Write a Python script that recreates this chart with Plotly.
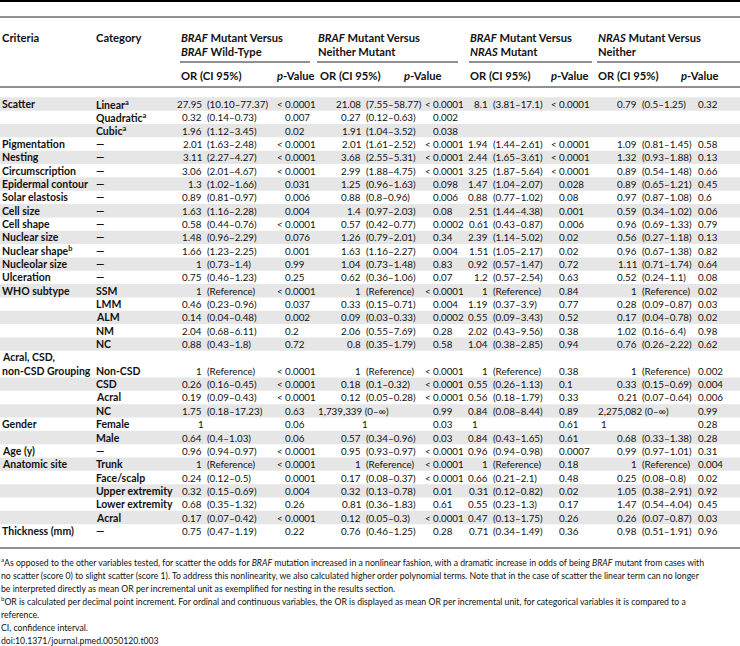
import plotly.graph_objects as go

# ---------------- data ----------------
criteria = ["Scatter", "", "", "Pigmentation", "Nesting", "Circumscription", "Epidermal contour",
            "Solar elastosis", "Cell size", "Cell shape", "Nuclear size", "Nuclear shape<sup>b</sup>",
            "Nucleolar size", "Ulceration", "WHO subtype", "", "", "", "",
            "Acral, CSD,|non-CSD Grouping", "", "", "", "Gender", "", "Age (y)", "Anatomic site",
            "", "", "", "", "Thickness (mm)"]
category = ["Linear<sup>a</sup>", "Quadratic<sup>a</sup>", "Cubic<sup>a</sup>", "—", "—", "—", "—",
            "—", "—", "—", "—", "—", "—", "—", "SSM", "LMM", "ALM", "NM", "NC",
            "Non-CSD", "CSD", "Acral", "NC", "Female", "Male", "—", "Trunk",
            "Face/scalp", "Upper extremity", "Lower extremity", "Acral", "—"]

or_braf_vs_wt = ["27.95 (10.10–77.37)", "0.32 (0.14–0.73)", "1.96 (1.12–3.45)", "2.01 (1.63–2.48)",
                 "3.11 (2.27–4.27)", "3.06 (2.01–4.67)", "1.3 (1.02–1.66)", "0.89 (0.81–0.97)",
                 "1.63 (1.16–2.28)", "0.58 (0.44–0.76)", "1.48 (0.96–2.29)", "1.66 (1.23–2.25)",
                 "1 (0.73–1.4)", "0.75 (0.46–1.23)", "1 (Reference)", "0.46 (0.23–0.96)",
                 "0.14 (0.04–0.48)", "2.04 (0.68–6.11)", "0.88 (0.43–1.8)", "1 (Reference)",
                 "0.26 (0.16–0.45)", "0.19 (0.09–0.43)", "1.75 (0.18–17.23)", "1",
                 "0.64 (0.4–1.03)", "0.96 (0.94–0.97)", "1 (Reference)", "0.24 (0.12–0.5)",
                 "0.32 (0.15–0.69)", "0.68 (0.35–1.32)", "0.17 (0.07–0.42)", "0.75 (0.47–1.19)"]
p_braf_vs_wt = ["<0.0001", "0.007", "0.02", "<0.0001", "<0.0001", "<0.0001", "0.031", "0.006",
                "0.004", "<0.0001", "0.076", "0.001", "0.99", "0.25", "<0.0001", "0.037",
                "0.002", "0.2", "0.72", "<0.0001", "<0.0001", "<0.0001", "0.63", "0.06",
                "0.06", "<0.0001", "<0.0001", "0.0001", "0.004", "0.26", "<0.0001", "0.22"]

or_braf_vs_neither = ["21.08 (7.55–58.77)", "0.27 (0.12–0.63)", "1.91 (1.04–3.52)", "2.01 (1.61–2.52)",
                      "3.68 (2.55–5.31)", "2.99 (1.88–4.75)", "1.25 (0.96–1.63)", "0.88 (0.8–0.96)",
                      "1.4 (0.97–2.03)", "0.57 (0.42–0.77)", "1.26 (0.79–2.01)", "1.63 (1.16–2.27)",
                      "1.04 (0.73–1.48)", "0.62 (0.36–1.06)", "1 (Reference)", "0.33 (0.15–0.71)",
                      "0.09 (0.03–0.33)", "2.06 (0.55–7.69)", "0.8 (0.35–1.79)", "1 (Reference)",
                      "0.18 (0.1–0.32)", "0.12 (0.05–0.28)", "1,739,339 (0–∞)", "1",
                      "0.57 (0.34–0.96)", "0.95 (0.93–0.97)", "1 (Reference)", "0.17 (0.08–0.37)",
                      "0.32 (0.13–0.78)", "0.81 (0.36–1.83)", "0.12 (0.05–0.3)", "0.76 (0.46–1.25)"]
p_braf_vs_neither = ["<0.0001", "0.002", "0.038", "<0.0001", "<0.0001", "<0.0001", "0.098", "0.006",
                     "0.08", "0.0002", "0.34", "0.004", "0.83", "0.07", "<0.0001", "0.004",
                     "0.0002", "0.28", "0.58", "<0.0001", "<0.0001", "<0.0001", "0.99", "0.03",
                     "0.03", "<0.0001", "<0.0001", "<0.0001", "0.01", "0.61", "<0.0001", "0.28"]

or_braf_vs_nras = ["8.1 (3.81–17.1)", "", "", "1.94 (1.44–2.61)", "2.44 (1.65–3.61)", "3.25 (1.87–5.64)",
                   "1.47 (1.04–2.07)", "0.88 (0.77–1.02)", "2.51 (1.44–4.38)", "0.61 (0.43–0.87)",
                   "2.39 (1.14–5.02)", "1.51 (1.05–2.17)", "0.92 (0.57–1.47)", "1.2 (0.57–2.54)",
                   "1 (Reference)", "1.19 (0.37–3.9)", "0.55 (0.09–3.43)", "2.02 (0.43–9.56)",
                   "1.04 (0.38–2.85)", "1 (Reference)", "0.55 (0.26–1.13)", "0.56 (0.18–1.79)",
                   "0.84 (0.08–8.44)", "1", "0.84 (0.43–1.65)", "0.96 (0.94–0.98)", "1 (Reference)",
                   "0.66 (0.21–2.1)", "0.31 (0.12–0.82)", "0.55 (0.23–1.3)", "0.47 (0.13–1.75)",
                   "0.71 (0.34–1.49)"]
p_braf_vs_nras = ["<0.0001", "", "", "<0.0001", "<0.0001", "<0.0001", "0.028", "0.08", "0.001",
                  "0.006", "0.02", "0.02", "0.72", "0.63", "0.84", "0.77", "0.52", "0.38", "0.94",
                  "0.38", "0.1", "0.33", "0.89", "0.61", "0.61", "0.0007", "0.18", "0.48", "0.02",
                  "0.17", "0.26", "0.36"]

or_nras_vs_neither = ["0.79 (0.5–1.25)", "", "", "1.09 (0.81–1.45)", "1.32 (0.93–1.88)",
                      "0.89 (0.54–1.48)", "0.89 (0.65–1.21)", "0.97 (0.87–1.08)", "0.59 (0.34–1.02)",
                      "0.96 (0.69–1.33)", "0.56 (0.27–1.18)", "0.96 (0.67–1.38)", "1.11 (0.71–1.74)",
                      "0.52 (0.24–1.1)", "1 (Reference)", "0.28 (0.09–0.87)", "0.17 (0.04–0.78)",
                      "1.02 (0.16–6.4)", "0.76 (0.26–2.22)", "1 (Reference)", "0.33 (0.15–0.69)",
                      "0.21 (0.07–0.64)", "2,275,082 (0–∞)", "1", "0.68 (0.33–1.38)",
                      "0.99 (0.97–1.01)", "1 (Reference)", "0.25 (0.08–0.8)", "1.05 (0.38–2.91)",
                      "1.47 (0.54–4.04)", "0.26 (0.07–0.87)", "0.98 (0.51–1.91)"]
p_nras_vs_neither = ["0.32", "", "", "0.58", "0.13", "0.66", "0.45", "0.6", "0.06", "0.79", "0.13",
                     "0.82", "0.64", "0.08", "0.02", "0.03", "0.02", "0.98", "0.62", "0.002", "0.004",
                     "0.006", "0.99", "0.28", "0.28", "0.31", "0.004", "0.02", "0.92", "0.45", "0.03",
                     "0.96"]

group_titles = [("<i>BRAF</i> Mutant Versus", "<i>BRAF</i> Wild-Type"),
                ("<i>BRAF</i> Mutant Versus", "Neither Mutant"),
                ("<i>BRAF</i> Mutant Versus", "<i>NRAS</i> Mutant"),
                ("<i>NRAS</i> Mutant Versus", "Neither")]
sub_headers = ["OR (CI 95%)", "<i>p</i>-Value"]
stub_headers = ["Criteria", "Category"]

footnotes = [
    "<sup>a</sup>As opposed to the other variables tested, for scatter the odds for <i>BRAF</i> mutation increased in a nonlinear fashion, with a dramatic increase in odds of being <i>BRAF</i> mutant from cases with",
    "no scatter (score 0) to slight scatter (score 1). To address this nonlinearity, we also calculated higher order polynomial terms. Note that in the case of scatter the linear term can no longer",
    "be interpreted directly as mean OR per incremental unit as exemplified for nesting in the results section.",
    "<sup>b</sup>OR is calculated per decimal point increment. For ordinal and continuous variables, the OR is displayed as mean OR per incremental unit, for categorical variables it is compared to a",
    "reference.",
    "CI, confidence interval.",
    "doi:10.1371/journal.pmed.0050120.t003",
]

or_cols = [or_braf_vs_wt, or_braf_vs_neither, or_braf_vs_nras, or_nras_vs_neither]
p_cols = [p_braf_vs_wt, p_braf_vs_neither, p_braf_vs_nras, p_nras_vs_neither]

# ---------------- layout / style ----------------
W, H = 740, 646
FONT = "Lato"
TXT = "#111111"
STRIPE = "#e6e6e6"
FS_DATA = 9.8
FS_LABEL = 10.5
FS_HEAD = 11.2
FS_NOTE = 8.7

X_CRIT, X_CAT = 0.5, 94.5
COLS = [
    dict(group=179.5, orh=179.5, ph=276, split=203, p=284, wide=179.5, lone=197, ul=(180, 310)),
    dict(group=317, orh=319, ph=403, split=362, p=432, wide=317, lone=360.5, ul=(317, 458)),
    dict(group=469, orh=469, ph=550, split=489, p=558, wide=469, lone=471, ul=(469, 592)),
    dict(group=597, orh=597, ph=679.5, split=638, p=697, wide=597, lone=599.5, ul=(597, 740)),
]
Y_FIRST, PITCH = 104, 13.34
Y_HEAD1, Y_HEAD2, Y_UL, Y_HEAD3 = 37, 51, 62, 75
Y_TOP, Y_RULE1, Y_RULE2, Y_BOTTOM = 1.0, 17, 87, 548
Y_NOTE0, NOTE_PITCH = 562, 13.0

# line index for each row (the two-line criteria row takes two lines, values on the 2nd)
row_line = []
ln = 0
for c in criteria:
    if "|" in c:
        row_line.append(ln + 1)
        ln += 2
    else:
        row_line.append(ln)
        ln += 1


def ly(line):
    return Y_FIRST + PITCH * line


annotations = []
shapes = []


def add_text(x, y, text, anchor="left", size=FS_DATA, bold=False):
    if not text:
        return
    if bold:
        text = "<b>" + text + "</b>"
    annotations.append(dict(x=x, y=y, xref="x", yref="y", text=text, showarrow=False,
                            xanchor=anchor, yanchor="middle", borderpad=0,
                            font=dict(family=FONT, size=size, color=TXT)))


def hline(y, x0=0, x1=W, width=1.0, color="#222222"):
    shapes.append(dict(type="line", xref="x", yref="y", x0=x0, x1=x1, y0=y, y1=y,
                       line=dict(color=color, width=width)))


# stripes
for i, c in enumerate(criteria):
    if i % 2 == 0:
        top_line = row_line[i] - (1 if "|" in c else 0)
        shapes.append(dict(type="rect", xref="x", yref="y", x0=0, x1=W,
                           y0=ly(top_line) - PITCH / 2, y1=ly(row_line[i]) + PITCH / 2,
                           fillcolor=STRIPE, line=dict(width=0), layer="below"))

# rules
hline(Y_TOP, width=2.0, color="#000000")
hline(Y_RULE1, width=1.0)
hline(Y_RULE2, width=1.0)
hline(Y_BOTTOM, width=1.0)

# headers
add_text(X_CRIT, Y_HEAD1, stub_headers[0], size=FS_HEAD, bold=True)
add_text(X_CAT, Y_HEAD1, stub_headers[1], size=FS_HEAD, bold=True)
for g, col in zip(group_titles, COLS):
    add_text(col["group"], Y_HEAD1, g[0], size=FS_HEAD, bold=True)
    add_text(col["group"], Y_HEAD2, g[1], size=FS_HEAD, bold=True)
    hline(Y_UL, col["ul"][0], col["ul"][1], width=1.0)
    add_text(col["orh"], Y_HEAD3, sub_headers[0], size=FS_HEAD, bold=True)
    add_text(col["ph"], Y_HEAD3, sub_headers[1], size=FS_HEAD, bold=True)

# body
for i in range(len(criteria)):
    y = ly(row_line[i])
    crit = criteria[i]
    if "|" in crit:
        a, b = crit.split("|")
        add_text(X_CRIT, y - PITCH, a, size=FS_LABEL, bold=True)
        add_text(X_CRIT, y, b, size=FS_LABEL, bold=True)
    else:
        add_text(X_CRIT, y, crit, size=FS_LABEL, bold=True)
    add_text(X_CAT, y, category[i], size=FS_LABEL, bold=True)
    for col, orv, pv in zip(COLS, or_cols, p_cols):
        s = orv[i]
        if s:
            num, _, ci = s.partition(" ")
            if "," in num:
                add_text(col["wide"], y, s)
            elif not ci:
                add_text(col["lone"], y, num)
            else:
                add_text(col["split"], y, num, anchor="right")
                add_text(col["split"] + 2.5, y, ci)
        p = pv[i]
        if p:
            if p.startswith("<"):
                add_text(col["p"] - 0.5, y, "&lt;", anchor="right")
                add_text(col["p"], y, p[1:])
            else:
                add_text(col["p"], y, p)

# footnotes
for k, t in enumerate(footnotes):
    add_text(0, Y_NOTE0 + NOTE_PITCH * k, t, size=FS_NOTE)

fig = go.Figure(go.Scatter(x=[], y=[], showlegend=False))
fig.update_layout(
    width=W, height=H, autosize=False,
    margin=dict(l=0, r=0, t=0, b=0),
    paper_bgcolor="white", plot_bgcolor="white",
    xaxis=dict(range=[0, W], visible=False, fixedrange=True),
    yaxis=dict(range=[H, 0], visible=False, fixedrange=True),
    annotations=annotations, shapes=shapes, showlegend=False,
)
fig.write_html("out.html", config={"displayModeBar": False},
               post_script="document.body.style.margin='0px';")
